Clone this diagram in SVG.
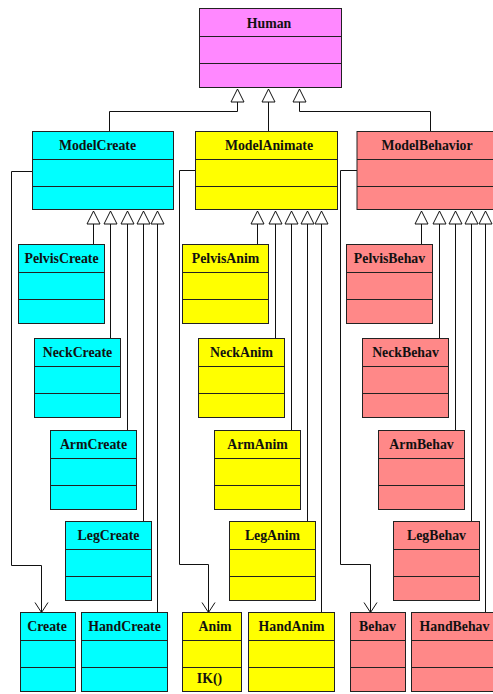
<svg xmlns="http://www.w3.org/2000/svg" width="493" height="694" viewBox="0 0 493 694">
<style>
.box rect{stroke:#222;stroke-width:1}
.box line{stroke:#222;stroke-width:1}
.human rect{fill:#ff88ff}
.cyan rect{fill:#00ffff}
.yel rect{fill:#ffff00}
.red rect{fill:#ff8888}
text{font-family:"Liberation Serif","Times New Roman",serif;font-weight:bold;font-size:13.8px;fill:#111;text-anchor:middle}
.conn path{fill:none;stroke:#111;stroke-width:1}
.inh{marker-end:url(#tri)}
.dep{marker-end:url(#open)}
</style>
<defs>
<marker id="tri" markerUnits="userSpaceOnUse" viewBox="-1 -1 15 15" refX="13" refY="6.5" markerWidth="15" markerHeight="15" orient="auto" overflow="visible">
<path d="M0,0 L13,6.5 L0,13 Z" fill="#fff" stroke="#111" stroke-width="1"/>
</marker>
<marker id="open" markerUnits="userSpaceOnUse" viewBox="-1 -1 13 15" refX="10" refY="6.5" markerWidth="13" markerHeight="15" orient="auto" overflow="visible">
<path d="M0,0 L10,6.5 L0,13" fill="none" stroke="#111" stroke-width="1"/>
</marker>
</defs>
<g id="connectors" class="conn">
<path class="inh" d="M109.5,131.5 V111.5 H237.5 V89"/>
<path class="inh" d="M268.5,131.5 V89"/>
<path class="inh" d="M430.5,131.5 V111.5 H299.5 V89"/>
<path class="inh" d="M93.5,244.5 V211"/>
<path class="inh" d="M110.5,338.5 V211"/>
<path class="inh" d="M127.5,430.5 V211"/>
<path class="inh" d="M143.5,521.5 V211"/>
<path class="inh" d="M157.5,612.5 V211"/>
<path class="inh" d="M257.5,244.5 V211"/>
<path class="inh" d="M275.5,338.5 V211"/>
<path class="inh" d="M291.5,430.5 V211"/>
<path class="inh" d="M307.5,521.5 V211"/>
<path class="inh" d="M321.5,612.5 V211"/>
<path class="inh" d="M421.5,244.5 V211"/>
<path class="inh" d="M439.5,338.5 V211"/>
<path class="inh" d="M455.5,430.5 V211"/>
<path class="inh" d="M471.5,521.5 V211"/>
<path class="inh" d="M485.5,612.5 V211"/>
<path class="dep" d="M32.5,171.5 H11.5 V565.5 H41.5 V612.5"/>
<path class="dep" d="M195.5,170.5 H179.5 V564.5 H208.5 V612.5"/>
<path class="dep" d="M357,170.5 H340.5 V564.5 H370.5 V612.5"/>
</g>
<g id="Human" class="box human"><rect x="199.5" y="8.5" width="142" height="79"/><line x1="199.5" y1="36.5" x2="341.5" y2="36.5"/><line x1="199.5" y1="63.5" x2="341.5" y2="63.5"/><text x="269" y="28">Human</text></g>
<g id="ModelCreate" class="box cyan"><rect x="32.5" y="131.5" width="141" height="78"/><line x1="32.5" y1="159.5" x2="173.5" y2="159.5"/><line x1="32.5" y1="186.5" x2="173.5" y2="186.5"/><text x="97.5" y="150">ModelCreate</text></g>
<g id="ModelAnimate" class="box yel"><rect x="195.5" y="131.5" width="142" height="78"/><line x1="195.5" y1="159.5" x2="337.5" y2="159.5"/><line x1="195.5" y1="186.5" x2="337.5" y2="186.5"/><text x="269" y="150">ModelAnimate</text></g>
<g id="ModelBehavior" class="box red"><rect x="357" y="131.5" width="142" height="78"/><line x1="357" y1="159.5" x2="499" y2="159.5"/><line x1="357" y1="186.5" x2="499" y2="186.5"/><text x="427" y="150">ModelBehavior</text></g>
<g id="PelvisCreate" class="box cyan"><rect x="18.5" y="244.5" width="86" height="79"/><line x1="18.5" y1="272.5" x2="104.5" y2="272.5"/><line x1="18.5" y1="299.5" x2="104.5" y2="299.5"/><text x="61.5" y="263">PelvisCreate</text></g>
<g id="NeckCreate" class="box cyan"><rect x="34.5" y="338.5" width="86" height="79"/><line x1="34.5" y1="366.5" x2="120.5" y2="366.5"/><line x1="34.5" y1="393.5" x2="120.5" y2="393.5"/><text x="77.5" y="357">NeckCreate</text></g>
<g id="ArmCreate" class="box cyan"><rect x="50.5" y="430.5" width="86" height="79"/><line x1="50.5" y1="458.5" x2="136.5" y2="458.5"/><line x1="50.5" y1="485.5" x2="136.5" y2="485.5"/><text x="93.5" y="449">ArmCreate</text></g>
<g id="LegCreate" class="box cyan"><rect x="65.5" y="521.5" width="86" height="79"/><line x1="65.5" y1="549.5" x2="151.5" y2="549.5"/><line x1="65.5" y1="576.5" x2="151.5" y2="576.5"/><text x="108.5" y="540">LegCreate</text></g>
<g id="HandCreate" class="box cyan"><rect x="81.5" y="612.5" width="86" height="79"/><line x1="81.5" y1="640.5" x2="167.5" y2="640.5"/><line x1="81.5" y1="667.5" x2="167.5" y2="667.5"/><text x="124.5" y="631">HandCreate</text></g>
<g id="Create" class="box cyan"><rect x="20.5" y="612.5" width="55" height="79"/><line x1="20.5" y1="640.5" x2="75.5" y2="640.5"/><line x1="20.5" y1="667.5" x2="75.5" y2="667.5"/><text x="47" y="631">Create</text></g>
<g id="PelvisAnim" class="box yel"><rect x="182.5" y="244.5" width="86" height="79"/><line x1="182.5" y1="272.5" x2="268.5" y2="272.5"/><line x1="182.5" y1="299.5" x2="268.5" y2="299.5"/><text x="225.5" y="263">PelvisAnim</text></g>
<g id="NeckAnim" class="box yel"><rect x="198.5" y="338.5" width="86" height="79"/><line x1="198.5" y1="366.5" x2="284.5" y2="366.5"/><line x1="198.5" y1="393.5" x2="284.5" y2="393.5"/><text x="241.5" y="357">NeckAnim</text></g>
<g id="ArmAnim" class="box yel"><rect x="214.5" y="430.5" width="86" height="79"/><line x1="214.5" y1="458.5" x2="300.5" y2="458.5"/><line x1="214.5" y1="485.5" x2="300.5" y2="485.5"/><text x="257.5" y="449">ArmAnim</text></g>
<g id="LegAnim" class="box yel"><rect x="229.5" y="521.5" width="86" height="79"/><line x1="229.5" y1="549.5" x2="315.5" y2="549.5"/><line x1="229.5" y1="576.5" x2="315.5" y2="576.5"/><text x="272.5" y="540">LegAnim</text></g>
<g id="HandAnim" class="box yel"><rect x="248.5" y="612.5" width="86" height="79"/><line x1="248.5" y1="640.5" x2="334.5" y2="640.5"/><line x1="248.5" y1="667.5" x2="334.5" y2="667.5"/><text x="291.5" y="631">HandAnim</text></g>
<g id="Anim" class="box yel"><rect x="182.5" y="612.5" width="59" height="79"/><line x1="182.5" y1="640.5" x2="241.5" y2="640.5"/><line x1="182.5" y1="667.5" x2="241.5" y2="667.5"/><text x="215" y="631">Anim</text><text x="209.5" y="683">IK()</text></g>
<g id="PelvisBehav" class="box red"><rect x="346.5" y="244.5" width="86" height="79"/><line x1="346.5" y1="272.5" x2="432.5" y2="272.5"/><line x1="346.5" y1="299.5" x2="432.5" y2="299.5"/><text x="389.5" y="263">PelvisBehav</text></g>
<g id="NeckBehav" class="box red"><rect x="362.5" y="338.5" width="86" height="79"/><line x1="362.5" y1="366.5" x2="448.5" y2="366.5"/><line x1="362.5" y1="393.5" x2="448.5" y2="393.5"/><text x="405.5" y="357">NeckBehav</text></g>
<g id="ArmBehav" class="box red"><rect x="378.5" y="430.5" width="86" height="79"/><line x1="378.5" y1="458.5" x2="464.5" y2="458.5"/><line x1="378.5" y1="485.5" x2="464.5" y2="485.5"/><text x="421.5" y="449">ArmBehav</text></g>
<g id="LegBehav" class="box red"><rect x="393.5" y="521.5" width="86" height="79"/><line x1="393.5" y1="549.5" x2="479.5" y2="549.5"/><line x1="393.5" y1="576.5" x2="479.5" y2="576.5"/><text x="436.5" y="540">LegBehav</text></g>
<g id="HandBehav" class="box red"><rect x="411.5" y="612.5" width="86" height="79"/><line x1="411.5" y1="640.5" x2="497.5" y2="640.5"/><line x1="411.5" y1="667.5" x2="497.5" y2="667.5"/><text x="454.5" y="631">HandBehav</text></g>
<g id="Behav" class="box red"><rect x="350.5" y="612.5" width="55" height="79"/><line x1="350.5" y1="640.5" x2="405.5" y2="640.5"/><line x1="350.5" y1="667.5" x2="405.5" y2="667.5"/><text x="377.5" y="631">Behav</text></g>
</svg>
